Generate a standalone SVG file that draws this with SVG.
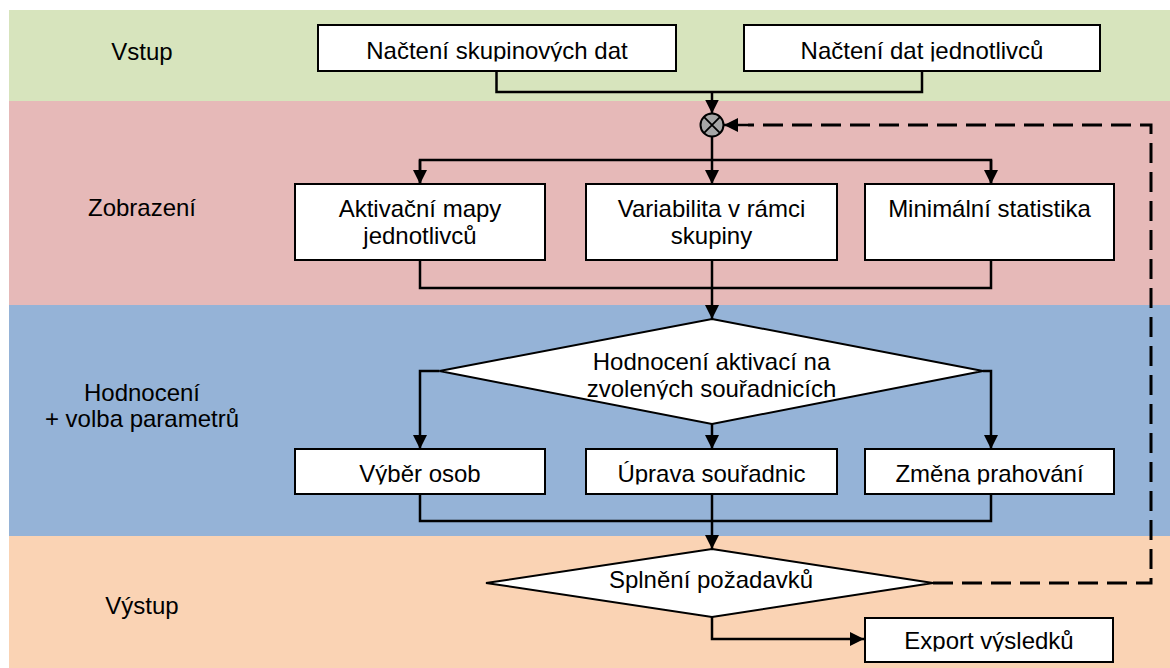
<svg xmlns="http://www.w3.org/2000/svg" width="1170" height="668" viewBox="0 0 1170 668">
<style>
text{font-family:"Liberation Sans",Arial,sans-serif;font-size:24px;fill:#000;text-anchor:middle}
.box{fill:#fff;stroke:#000;stroke-width:2}
.ln{fill:none;stroke:#000;stroke-width:2.5}
.arr{fill:none;stroke:#000;stroke-width:2.5;marker-end:url(#ah)}
.dash{fill:none;stroke:#000;stroke-width:3;stroke-dasharray:20 9}
</style>
<defs>
<marker id="ah" viewBox="0 0 10 10" refX="10" refY="5" markerWidth="5.6" markerHeight="5.6" markerUnits="strokeWidth" orient="auto">
<path d="M0,0 L10,5 L0,10 z" fill="#000"/>
</marker>
<clipPath id="c1"><rect x="0" y="0" width="1170" height="61.5"/></clipPath>
<clipPath id="c2"><rect x="0" y="300" width="1170" height="99.5"/></clipPath>
<clipPath id="c3"><rect x="0" y="440" width="1170" height="44.5"/></clipPath>
<clipPath id="c4"><rect x="0" y="600" width="1170" height="51.5"/></clipPath>
</defs>
<g id="lanes">
<rect x="9" y="10" width="1161" height="91" fill="#D7E4BD"/>
<rect x="9" y="101" width="1161" height="204" fill="#E6B9B8"/>
<rect x="9" y="305" width="1161" height="231" fill="#95B3D7"/>
<rect x="9" y="536" width="1161" height="132" fill="#FAD3B4"/>
<text x="142" y="60">Vstup</text>
<text x="142" y="216">Zobrazení</text>
<text x="142" y="401">Hodnocení</text>
<text x="142" y="427">+ volba parametrů</text>
<text x="142" y="614">Výstup</text>
</g>
<g id="connectors">
<polyline class="ln" points="496.5,71 496.5,92 922,92 922,71"/>
<line class="arr" x1="712" y1="92" x2="712" y2="113.5"/>
<polyline class="dash" points="933,583 1151,583 1151,125 748,125"/>
<line class="arr" x1="748" y1="125" x2="724" y2="125"/>
<line class="ln" x1="712" y1="136.5" x2="712" y2="160"/>
<polyline class="ln" points="420,184 420,160 991,160 991,184"/>
<line class="arr" x1="420" y1="160" x2="420" y2="184"/>
<line class="arr" x1="712" y1="160" x2="712" y2="184"/>
<line class="arr" x1="991" y1="160" x2="991" y2="184"/>
<polyline class="ln" points="420,260 420,288 991,288 991,260"/>
<line class="ln" x1="712" y1="260" x2="712" y2="288"/>
<line class="arr" x1="712" y1="288" x2="712" y2="319"/>
<polyline class="arr" points="439.5,371 420,371 420,449"/>
<polyline class="arr" points="983,371 991,371 991,449"/>
<line class="arr" x1="712" y1="424" x2="712" y2="449"/>
<polyline class="ln" points="420,494 420,521 991,521 991,494"/>
<line class="ln" x1="712" y1="494" x2="712" y2="521"/>
<line class="arr" x1="712" y1="521" x2="712" y2="549"/>
<polyline class="arr" points="712,617 712,639 864,639"/>
</g>
<g id="n-skupinova">
<rect class="box" x="318" y="25" width="358" height="46"/>
<text x="497" y="59" clip-path="url(#c1)">Načtení skupinových dat</text>
</g>
<g id="n-jednotlivci">
<rect class="box" x="744" y="25" width="356" height="46"/>
<text x="922" y="59" clip-path="url(#c1)">Načtení dat jednotlivců</text>
</g>
<g id="n-junction">
<circle cx="712" cy="125" r="11.5" fill="#A6A6A6" stroke="#000" stroke-width="2"/>
<path d="M703.9,116.9 L720.1,133.1 M720.1,116.9 L703.9,133.1" stroke="#000" stroke-width="1.8"/>
</g>
<g id="n-aktivacni">
<rect class="box" x="295" y="184" width="250" height="76"/>
<text x="420" y="217">Aktivační mapy</text>
<text x="420" y="244">jednotlivců</text>
</g>
<g id="n-variabilita">
<rect class="box" x="586" y="184" width="251" height="76"/>
<text x="711.5" y="217">Variabilita v rámci</text>
<text x="711.5" y="244">skupiny</text>
</g>
<g id="n-minimalni">
<rect class="box" x="865" y="184" width="249" height="76"/>
<text x="989.5" y="217">Minimální statistika</text>
</g>
<g id="n-hodnoceni">
<polygon class="box" points="712,319 983,371 712,424 439.5,371"/>
<text x="711.5" y="370">Hodnocení aktivací na</text>
<text x="711.5" y="397" clip-path="url(#c2)">zvolených souřadnicích</text>
</g>
<g id="n-vyber">
<rect class="box" x="295" y="449" width="250" height="45"/>
<text x="420" y="482" clip-path="url(#c3)">Výběr osob</text>
</g>
<g id="n-uprava">
<rect class="box" x="586" y="449" width="251" height="45"/>
<text x="711.5" y="482" clip-path="url(#c3)">Úprava souřadnic</text>
</g>
<g id="n-zmena">
<rect class="box" x="865" y="449" width="249" height="45"/>
<text x="989.5" y="482" clip-path="url(#c3)">Změna prahování</text>
</g>
<g id="n-splneni">
<polygon class="box" points="712,549 933,583 712,617 486,583"/>
<text x="711" y="588">Splnění požadavků</text>
</g>
<g id="n-export">
<rect class="box" x="865" y="618" width="248" height="44"/>
<text x="989" y="649" clip-path="url(#c4)">Export výsledků</text>
</g>
</svg>
